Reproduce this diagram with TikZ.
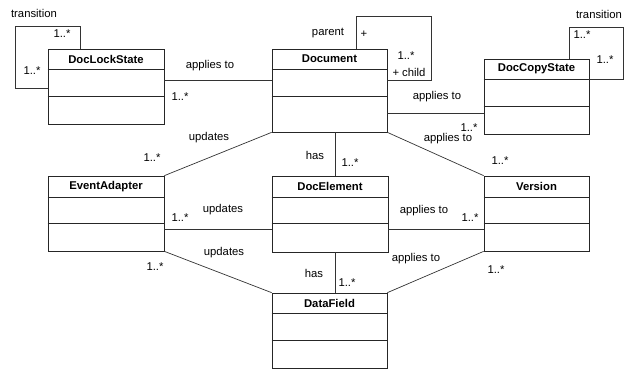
\documentclass[tikz,border=0pt]{standalone}
\usepackage{fontspec}
\setmainfont{Liberation Sans}
\begin{document}
\begin{tikzpicture}[x=1pt,y=-1pt,
  line width=0.7pt,
  cls/.style={draw=black!85, rectangle, inner sep=0pt, line width=0.7pt},
  ctitle/.style={font=\fontsize{11.3}{13}\selectfont\bfseries, inner sep=0pt},
  lbl/.style={font=\fontsize{11.3}{13}\selectfont, inner sep=0pt},
  conn/.style={draw=black!80, line width=0.7pt}]
\useasboundingbox (0,0) rectangle (624,369);
\clip (0,0) rectangle (624,369);

% class box: name, centre, width, height, title, header height
\newcommand{\umlbox}[6]{%
  \node[cls, minimum width=#3, minimum height=#4] (#1) at (#2) {};
  \node[ctitle] (#1-t) at ([yshift=-#6/2*1pt]#1.north) {#5};
  \draw[black!85] ([yshift=-#6*1pt]#1.north west) -- ([yshift=-#6*1pt]#1.north east);
  \draw[black!85] ([yshift=-48pt]#1.north west) -- ([yshift=-48pt]#1.north east);
}

\umlbox{lock}{106,86.5}{116}{75}{DocLockState}{21}
\umlbox{doc}{329.5,90.5}{115}{83}{Document}{21}
\umlbox{copy}{536.5,96.5}{105}{75}{DocCopyState}{21}
\umlbox{event}{106,213.5}{116}{75}{EventAdapter}{22}
\umlbox{elem}{330,214}{116}{76}{DocElement}{22}
\umlbox{ver}{536.5,213.5}{105}{75}{Version}{22}
\umlbox{field}{329.5,330.5}{115}{75}{DataField}{21}

% self associations
\coordinate (lockc) at (15,26);
\coordinate (docc) at (431,16);
\coordinate (copyc) at (623,27);
\draw[conn] ([xshift=-26pt]lock.north) |- (lockc) |- ([yshift=-1.5pt]lock.west);
\draw[conn] ([xshift=26.5pt]doc.north) |- (docc) |- ([yshift=10.5pt]doc.east);
\draw[conn] ([xshift=32.5pt]copy.north) |- (copyc) |- ([yshift=17.5pt]copy.east);

% associations
\draw[conn] ([yshift=6.5pt]lock.east) -- ([yshift=10.5pt]doc.west);
\draw[conn] ([yshift=-22.5pt]doc.east) -- ([yshift=-16.5pt]copy.west);
\draw[conn] (doc.south west) -- (event.north east);
\draw[conn] ([xshift=5.5pt]doc.south) -- ([xshift=5pt]elem.north);
\draw[conn] (doc.south east) -- (ver.north west);
\draw[conn] ([yshift=-15.5pt]event.east) -- ([yshift=-15pt]elem.west);
\draw[conn] ([yshift=-15pt]elem.east) -- ([yshift=-15.5pt]ver.west);
\draw[conn] (event.south east) -- (field.north west);
\draw[conn] ([xshift=5pt]elem.south) -- ([xshift=5.5pt]field.north);
\draw[conn] (ver.south west) -- (field.north east);

% labels
\node[lbl] (l1) at (34,13) {transition};
\node[lbl] (l2) at (62,34) {1..*};
\node[lbl] (l3) at (32,71) {1..*};
\node[lbl] (l4) at (210,66) {applies to};
\node[lbl] (l5) at (180,97) {1..*};
\node[lbl] (l6) at (328,33) {parent};
\node[lbl] (l7) at (364,34) {+};
\node[lbl] (l8) at (406,56) {1..*};
\node[lbl] (l9) at (409,72) {+ child};
\node[lbl] (l10) at (437,97) {applies to};
\node[lbl] (l11) at (469,128) {1..*};
\node[lbl] (l12) at (448,139) {applies to};
\node[lbl] (l13) at (500,161) {1..*};
\node[lbl] (l14) at (599,14) {transition};
\node[lbl] (l15) at (582,35) {1..*};
\node[lbl] (l16) at (605,60) {1..*};
\node[lbl] (l17) at (209,138) {updates};
\node[lbl] (l18) at (152,158) {1..*};
\node[lbl] (l19) at (315,155) {has};
\node[lbl] (l20) at (350,163) {1..*};
\node[lbl] (l21) at (223,210) {updates};
\node[lbl] (l22) at (180,218) {1..*};
\node[lbl] (l23) at (424,211) {applies to};
\node[lbl] (l24) at (470,218) {1..*};
\node[lbl] (l25) at (224,253) {updates};
\node[lbl] (l26) at (155,267) {1..*};
\node[lbl] (l27) at (314,273) {has};
\node[lbl] (l28) at (347,283) {1..*};
\node[lbl] (l29) at (416,259) {applies to};
\node[lbl] (l30) at (496,270) {1..*};
\end{tikzpicture}
\end{document}
